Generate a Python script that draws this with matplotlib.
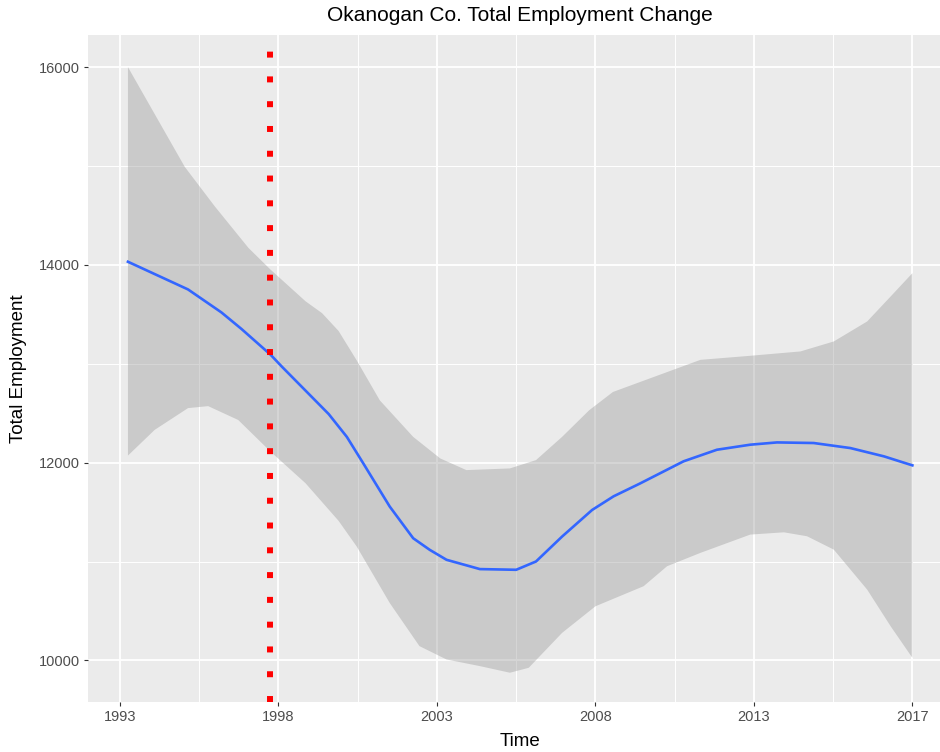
import matplotlib
matplotlib.use("Agg")
import matplotlib.pyplot as plt
import numpy as np

# smoothed employment curve (loess fit)
fit_years = [1993.24, 1995.06, 1996.07, 1996.68, 1997.56, 1997.90, 1999.32, 1999.87,
             2000.37, 2001.17, 2001.88, 2002.38, 2002.89, 2003.90, 2005.00, 2005.60,
             2006.39, 2007.30, 2007.95, 2008.74, 2010.07, 2011.08, 2012.09, 2012.90,
             2014.01, 2015.12, 2016.14, 2017.00]
fit_values = [14032, 13752, 13520, 13352, 13092, 12972, 12492, 12261,
              11992, 11556, 11236, 11119, 11018, 10924, 10917, 11001,
              11253, 11522, 11660, 11788, 12014, 12131, 12182, 12205,
              12199, 12148, 12064, 11973]

# confidence band edges
upper_years = [1993.24, 1994.96, 1995.87, 1996.89, 1997.56, 1998.62, 1999.12, 1999.62,
               2000.17, 2000.87, 2001.88, 2002.70, 2003.49, 2004.81, 2005.60, 2006.39,
               2007.21, 2007.93, 2009.03, 2010.58, 2012.09, 2013.61, 2014.62, 2015.63,
               2016.34, 2017.00]
upper_values = [16000, 14992, 14592, 14172, 13952, 13632, 13512, 13332,
                13034, 12630, 12261, 12043, 11925, 11942, 12026, 12261,
                12530, 12715, 12850, 13040, 13081, 13125, 13226, 13428,
                13680, 13916]
lower_years = [1993.24, 1994.05, 1995.06, 1995.67, 1996.58, 1997.56, 1998.62, 1999.62,
               2000.17, 2001.17, 2002.07, 2002.89, 2003.90, 2004.81, 2005.38, 2006.39,
               2007.40, 2008.86, 2009.57, 2010.58, 2012.09, 2013.11, 2013.81, 2014.62,
               2015.63, 2016.34, 2017.00]
lower_values = [12072, 12332, 12552, 12572, 12432, 12112, 11792, 11412,
                11152, 10581, 10145, 10010, 9943, 9876, 9926, 10279,
                10548, 10751, 10953, 11088, 11273, 11296, 11256, 11121,
                10717, 10347, 10027]

# vertical marker
marker_year = 1997.54

# x axis breaks (evenly spaced) and their labels
x_breaks = np.linspace(1993, 2017, 6)
x_labels = ["1993", "1998", "2003", "2008", "2013", "2017"]
y_breaks = [10000, 12000, 14000, 16000]
y_minor = [11000, 13000, 15000]


def plot_employment():
    plt.rcParams["font.family"] = ["Liberation Sans", "DejaVu Sans"]

    fig = plt.figure(figsize=(9.4, 7.52), dpi=100)
    ax = fig.add_axes([88 / 940, 1 - 702 / 752, 863 / 940, 667 / 752])
    ax.set_facecolor("#EBEBEB")

    # ggplot style grid
    x_minor = (x_breaks[:-1] + x_breaks[1:]) / 2
    for xv in x_breaks:
        ax.axvline(xv, color="white", lw=1.3, zorder=0)
    for xv in x_minor:
        ax.axvline(xv, color="white", lw=0.7, zorder=0)
    for yv in y_breaks:
        ax.axhline(yv, color="white", lw=1.3, zorder=0)
    for yv in y_minor:
        ax.axhline(yv, color="white", lw=0.7, zorder=0)

    # confidence band
    band_x = np.concatenate([upper_years, lower_years[::-1]])
    band_y = np.concatenate([upper_values, lower_values[::-1]])
    ax.fill(band_x, band_y, color="#999999", alpha=0.4, lw=0, zorder=1)

    # smooth line
    ax.plot(fit_years, fit_values, color="#3366FF", lw=1.9, zorder=2)

    # dotted red line
    ax.axvline(marker_year, color="red", lw=4.3, linestyle=(0, (1, 3.15)),
               dash_capstyle="butt", zorder=3)

    ax.set_xlim(1992.03, 2018.17)
    ax.set_ylim(9580, 16325)
    ax.set_xticks(x_breaks)
    ax.set_xticklabels(x_labels)
    ax.set_yticks(y_breaks)

    for s in ax.spines.values():
        s.set_visible(False)
    ax.tick_params(axis="both", direction="out", length=3, width=0.8,
                   color="#333333", labelcolor="#4D4D4D", labelsize=10.5, pad=3)

    ax.set_xlabel("Time", fontsize=13.5, va="center")
    ax.xaxis.set_label_coords(0.5, -0.0585)
    ax.set_ylabel("Total Employment", fontsize=13.5, va="center")
    ax.yaxis.set_label_coords(-0.0811, 0.5)
    ax.set_title("Okanogan Co. Total Employment Change", fontsize=15,
                 y=1.0285, pad=0, va="center")

    fig.savefig("out.png", dpi=100)


if __name__ == "__main__":
    plot_employment()
